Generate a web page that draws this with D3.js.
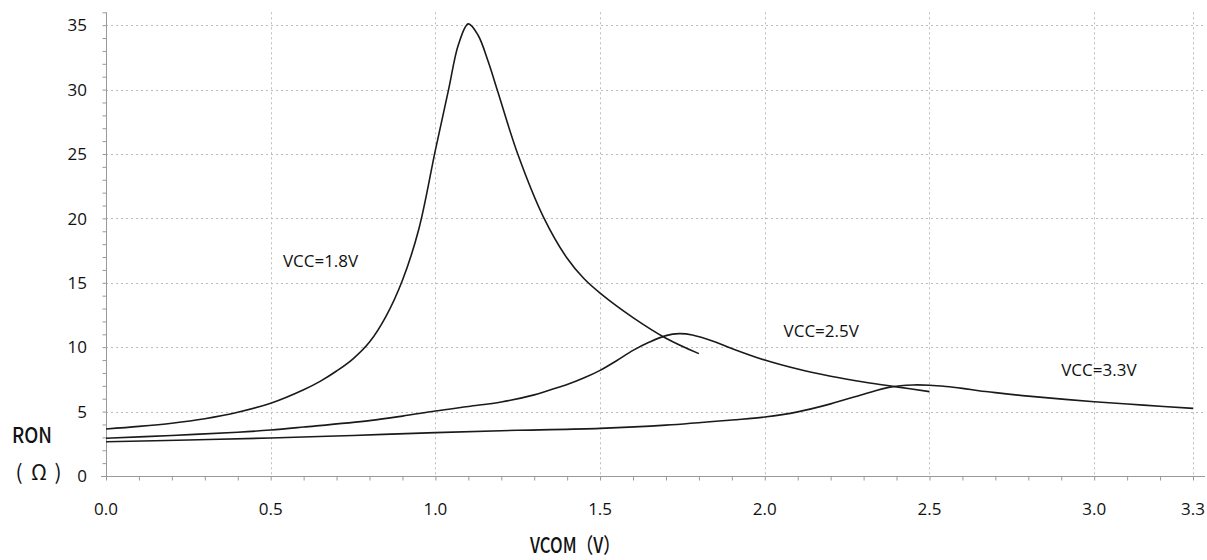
<!DOCTYPE html>
<html>
<head>
<meta charset="utf-8">
<script src="https://cdn.jsdelivr.net/npm/d3@7"></script>
<style>
  html, body { margin: 0; padding: 0; background: #fff; }
  svg { display: block; }
</style>
</head>
<body>
<svg id="chart" width="1207" height="560"></svg>
<script>
// ---- data ----
const xTicks = [0.0, 0.5, 1.0, 1.5, 2.0, 2.5, 3.0, 3.3];
const yTicks = [0, 5, 10, 15, 20, 25, 30, 35];

const vcc18X = [0, 0.1, 0.2, 0.3, 0.4, 0.5, 0.6, 0.65, 0.7, 0.75, 0.8, 0.85, 0.9, 0.95, 1.0, 1.04, 1.07, 1.1, 1.13, 1.16, 1.19, 1.25, 1.33, 1.4, 1.45, 1.5, 1.6, 1.7, 1.8];
const vcc18Y = [3.65, 3.85, 4.1, 4.45, 4.95, 5.65, 6.7, 7.35, 8.15, 9.1, 10.4, 12.4, 15.2, 19.2, 25.3, 30.0, 33.5, 35.1, 34.2, 32.2, 29.8, 25.0, 20.0, 16.9, 15.35, 14.2, 12.3, 10.7, 9.5];

const vcc25X = [0, 0.2, 0.4, 0.5, 0.6, 0.8, 0.9, 1.0, 1.1, 1.2, 1.3, 1.35, 1.4, 1.45, 1.5, 1.55, 1.6, 1.65, 1.7, 1.74, 1.78, 1.85, 1.9, 2.0, 2.1, 2.2, 2.3, 2.4, 2.5];
const vcc25Y = [2.93, 3.15, 3.4, 3.57, 3.8, 4.3, 4.65, 5.05, 5.4, 5.75, 6.3, 6.7, 7.1, 7.6, 8.2, 8.95, 9.75, 10.4, 10.9, 11.05, 10.95, 10.4, 9.9, 9.0, 8.3, 7.75, 7.3, 6.92, 6.55];

const vcc33X = [0, 0.25, 0.5, 0.75, 1.0, 1.25, 1.5, 1.7, 1.9, 2.0, 2.1, 2.2, 2.3, 2.38, 2.45, 2.5, 2.55, 2.6, 2.65, 2.7, 2.8, 3.0, 3.15, 3.3];
const vcc33Y = [2.66, 2.8, 2.95, 3.15, 3.37, 3.55, 3.7, 3.95, 4.35, 4.58, 4.98, 5.6, 6.35, 6.9, 7.07, 7.05, 6.95, 6.8, 6.62, 6.47, 6.2, 5.77, 5.5, 5.25];

const seriesNames = ["VCC=1.8V", "VCC=2.5V", "VCC=3.3V"];
const labelAt = [[0.537, 16.2], [2.057, 10.8], [2.9, 7.8]];

// ---- chart ----
const svg = d3.select("#chart");
const x = d3.scaleLinear().domain([0, 3.3]).range([106, 1193]);
const y = d3.scaleLinear().domain([0, 36]).range([476, 12.3]);

const tickFont = "'Open Sans', 'Liberation Sans', sans-serif";

// grid
const grid = svg.append("g");
grid.selectAll("line.h").data(yTicks.filter(d => d > 0)).join("line")
  .attr("x1", x(0)).attr("x2", 1205)
  .attr("y1", d => Math.round(y(d)) + 0.5).attr("y2", d => Math.round(y(d)) + 0.5)
  .attr("stroke", "#bdbdbd").attr("stroke-width", 1).attr("stroke-dasharray", "2,3");
grid.selectAll("line.v").data(xTicks.filter(d => d > 0)).join("line")
  .attr("x1", d => Math.round(x(d)) + 0.5).attr("x2", d => Math.round(x(d)) + 0.5)
  .attr("y1", y(36)).attr("y2", y(0))
  .attr("stroke", "#bdbdbd").attr("stroke-width", 1).attr("stroke-dasharray", "2,3");

// axes
const xMinor = d3.range(0, 34).map(i => i / 10);
const xAxis = d3.axisBottom(x).tickValues(xMinor).tickSize(4).tickFormat("");
const gx = svg.append("g").attr("transform", `translate(0,${Math.round(y(0)) + 0.5})`).call(xAxis);
gx.select(".domain").remove();
gx.selectAll("line").attr("stroke", "#999");
gx.append("line").attr("x1", 101).attr("x2", 1205).attr("stroke", "#999");

const yMinor = d3.range(0, 37);
const yAxis = d3.axisLeft(y).tickValues(yMinor).tickSize(4).tickFormat("");
const gy = svg.append("g").attr("transform", `translate(${Math.round(x(0)) + 0.5},0)`).call(yAxis);
gy.select(".domain").remove();
gy.selectAll("line").attr("stroke", "#999");
gy.append("line").attr("y1", y(36)).attr("y2", y(0) + 4).attr("stroke", "#999");

// tick labels
svg.append("g").selectAll("text").data(xTicks).join("text")
  .attr("x", d => x(d)).attr("y", 515)
  .attr("text-anchor", "middle")
  .attr("font-family", tickFont).attr("font-size", 17).attr("fill", "#111")
  .text(d => d.toFixed(1));
svg.append("g").selectAll("text").data(yTicks).join("text")
  .attr("x", 87).attr("y", d => y(d))
  .attr("dy", "0.36em")
  .attr("text-anchor", "end")
  .attr("font-family", tickFont).attr("font-size", 17).attr("fill", "#111")
  .text(d => d);

// curves
const line = d3.line().x(d => x(d[0])).y(d => y(d[1])).curve(d3.curveCatmullRom.alpha(0.5));
const series = [
  d3.zip(vcc18X, vcc18Y),
  d3.zip(vcc25X, vcc25Y),
  d3.zip(vcc33X, vcc33Y)
];
svg.append("g").selectAll("path").data(series).join("path")
  .attr("d", line).attr("fill", "none")
  .attr("stroke", "#1a1a1a").attr("stroke-width", 1.6);

// series labels
svg.append("g").selectAll("text").data(seriesNames).join("text")
  .attr("x", (d, i) => x(labelAt[i][0]))
  .attr("y", (d, i) => y(labelAt[i][1]))
  .attr("font-family", tickFont).attr("font-size", 17).attr("fill", "#111")
  .text(d => d);

// axis titles
const cjk = "'Noto Sans CJK SC', sans-serif";
svg.append("text").attr("x", 12).attr("y", 443)
  .attr("font-family", cjk).attr("font-size", 21).attr("font-weight", 500).attr("fill", "#111")
  .attr("textLength", 40).attr("lengthAdjust", "spacingAndGlyphs")
  .text("RON");
const unit = svg.append("text").attr("y", 480)
  .attr("font-family", cjk).attr("font-size", 21).attr("fill", "#111")
  .attr("text-anchor", "middle");
unit.append("tspan").attr("x", 19).text("(");
unit.append("tspan").attr("x", 39).text("Ω");
unit.append("tspan").attr("x", 58).text(")");
svg.append("text").attr("x", 530).attr("y", 553)
  .attr("font-family", cjk).attr("font-size", 21).attr("font-weight", 500).attr("fill", "#111")
  .attr("textLength", 90).attr("lengthAdjust", "spacingAndGlyphs")
  .text("VCOM（V）");
</script>
</body>
</html>
